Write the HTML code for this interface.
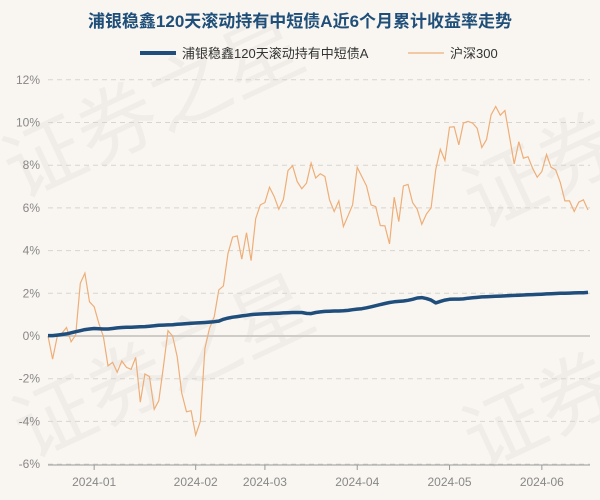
<!DOCTYPE html>
<html><head><meta charset="utf-8"><style>
body{margin:0;background:#f9f6f1;}
svg{display:block;font-family:"Liberation Sans","Noto Sans CJK SC",sans-serif;}
</style></head><body>
<svg width="600" height="500" viewBox="0 0 600 500" id="chart">
<rect width="600" height="500" fill="#f9f6f1"/>
<g fill="#000" fill-opacity="0.035" font-size="80">
<text x="20" y="200" transform="rotate(-25 20 200)">证券之星</text>
<text x="30" y="460" transform="rotate(-25 30 460)">证券之星</text>
<text x="480" y="230" transform="rotate(-25 480 230)">证券</text>
<text x="480" y="470" transform="rotate(-25 480 470)">证券</text>
</g>
<text x="300" y="27" text-anchor="middle" font-size="17" font-weight="bold" fill="#1f4e79">浦银稳鑫120天滚动持有中短债A近6个月累计收益率走势</text>
<g>
<line x1="140" y1="53" x2="176" y2="53" stroke="#1f4e7d" stroke-width="4"/>
<text x="182" y="58" font-size="13" fill="#333">浦银稳鑫120天滚动持有中短债A</text>
<line x1="408" y1="53" x2="444" y2="53" stroke="#eeae78" stroke-width="1.2"/>
<text x="450" y="58" font-size="13" fill="#333">沪深300</text>
</g>
<g id="grid"></g><g id="axes"></g><g id="series"></g>
</svg>
<script>
const yTicks=[12,10,8,6,4,2,0,-2,-4,-6];
const xTickLabels=["2024-01","2024-02","2024-03","2024-04","2024-05","2024-06"];
const xTickIdx=[10,32,47,67,87,107];
const fund=[0.02,0.02,0.04,0.07,0.1,0.15,0.2,0.25,0.3,0.33,
0.35,0.34,0.33,0.33,0.35,0.38,0.4,0.41,0.41,0.42,
0.43,0.44,0.46,0.48,0.5,0.51,0.52,0.53,0.55,0.56,
0.58,0.6,0.61,0.62,0.63,0.65,0.67,0.7,0.78,0.84,
0.88,0.91,0.94,0.97,1.0,1.02,1.03,1.04,1.05,1.06,
1.07,1.08,1.09,1.1,1.1,1.1,1.06,1.05,1.1,1.13,
1.15,1.16,1.17,1.17,1.18,1.2,1.23,1.26,1.28,1.32,
1.37,1.42,1.47,1.52,1.57,1.6,1.62,1.64,1.67,1.72,
1.78,1.8,1.75,1.68,1.55,1.62,1.68,1.72,1.73,1.73,
1.74,1.77,1.79,1.81,1.83,1.84,1.85,1.86,1.87,1.88,
1.89,1.9,1.91,1.92,1.93,1.94,1.95,1.96,1.97,1.98,
1.99,2.0,2.0,2.01,2.02,2.03,2.03,2.04];
const hs300=[0,-1.08,-0.03,0.12,0.4,-0.27,0.05,2.47,2.94,1.6,
1.37,0.6,-0.03,-1.4,-1.23,-1.7,-1.17,-1.47,-1.56,-1.0,
-3.1,-1.78,-1.9,-3.44,-3.03,-1.44,0.25,0,-0.97,-2.69,
-3.55,-3.5,-4.64,-4.0,-0.58,0.36,0.9,2.16,2.34,3.87,
4.63,4.69,3.6,4.84,3.53,5.5,6.14,6.25,6.97,6.53,
5.94,6.4,7.75,7.97,7.23,6.9,7.16,8.1,7.4,7.6,
7.47,6.38,5.83,6.33,5.13,5.63,6.14,7.9,7.47,7.03,
6.14,6.06,5.17,5.16,4.31,6.5,5.36,7.03,7.1,6.25,
5.94,5.23,5.72,6.0,7.78,8.75,8.22,9.78,9.8,8.95,
9.97,10.05,9.97,9.73,8.83,9.2,10.36,10.75,10.34,10.56,
9.34,8.06,9.1,8.33,8.4,7.86,7.44,7.7,8.5,7.9,
7.78,7.19,6.33,6.33,5.83,6.27,6.38,5.9];
const NS="http://www.w3.org/2000/svg";
const X0=48,X1=588,Y0=336,PPU=21.35;
const n=hs300.length;
function xs(i){return X0+i*(X1-X0)/(n-1);}
function ys(v){return Y0-v*PPU;}
function mk(t,a,p){const e=document.createElementNS(NS,t);for(const k in a)e.setAttribute(k,a[k]);p.appendChild(e);return e;}
const grid=document.getElementById('grid'),axes=document.getElementById('axes'),series=document.getElementById('series');
yTicks.forEach(v=>{
 if(v!==0){const l=mk('line',{x1:X0,x2:590,y1:ys(v),y2:ys(v),stroke:'#d8d4cf','stroke-dasharray':'5,4','stroke-width':1},grid);
 
 }
 const t=mk('text',{x:40,y:ys(v)+4,'text-anchor':'end','font-size':12,fill:'#888'},axes);
 t.textContent=v+'%';
 
 
});
const z=mk('line',{x1:X0,x2:590,y1:ys(0),y2:ys(0),stroke:'#cfcbc6','stroke-width':2},grid);


const xa=mk('line',{x1:X0,x2:590,y1:465,y2:465,stroke:'#999','stroke-width':1},axes);


xTickIdx.forEach((ix,k)=>{
 const tk=mk('line',{x1:xs(ix),x2:xs(ix),y1:465,y2:470,stroke:'#999'},axes);
 
 
 const t=mk('text',{x:xs(ix),y:486,'text-anchor':'middle','font-size':12,fill:'#888'},axes);
 t.textContent=xTickLabels[k];
 
 
});
function path(arr){return arr.map((v,i)=>(i?'L':'M')+xs(i).toFixed(1)+','+ys(v).toFixed(1)).join('');}
const h=mk('path',{d:path(hs300),fill:'none',stroke:'#eeae78','stroke-width':1.2},series);


const f=mk('path',{d:path(fund),fill:'none',stroke:'#1f4e7d','stroke-width':3.5,'stroke-linejoin':'round'},series);


</script>
</body></html>
